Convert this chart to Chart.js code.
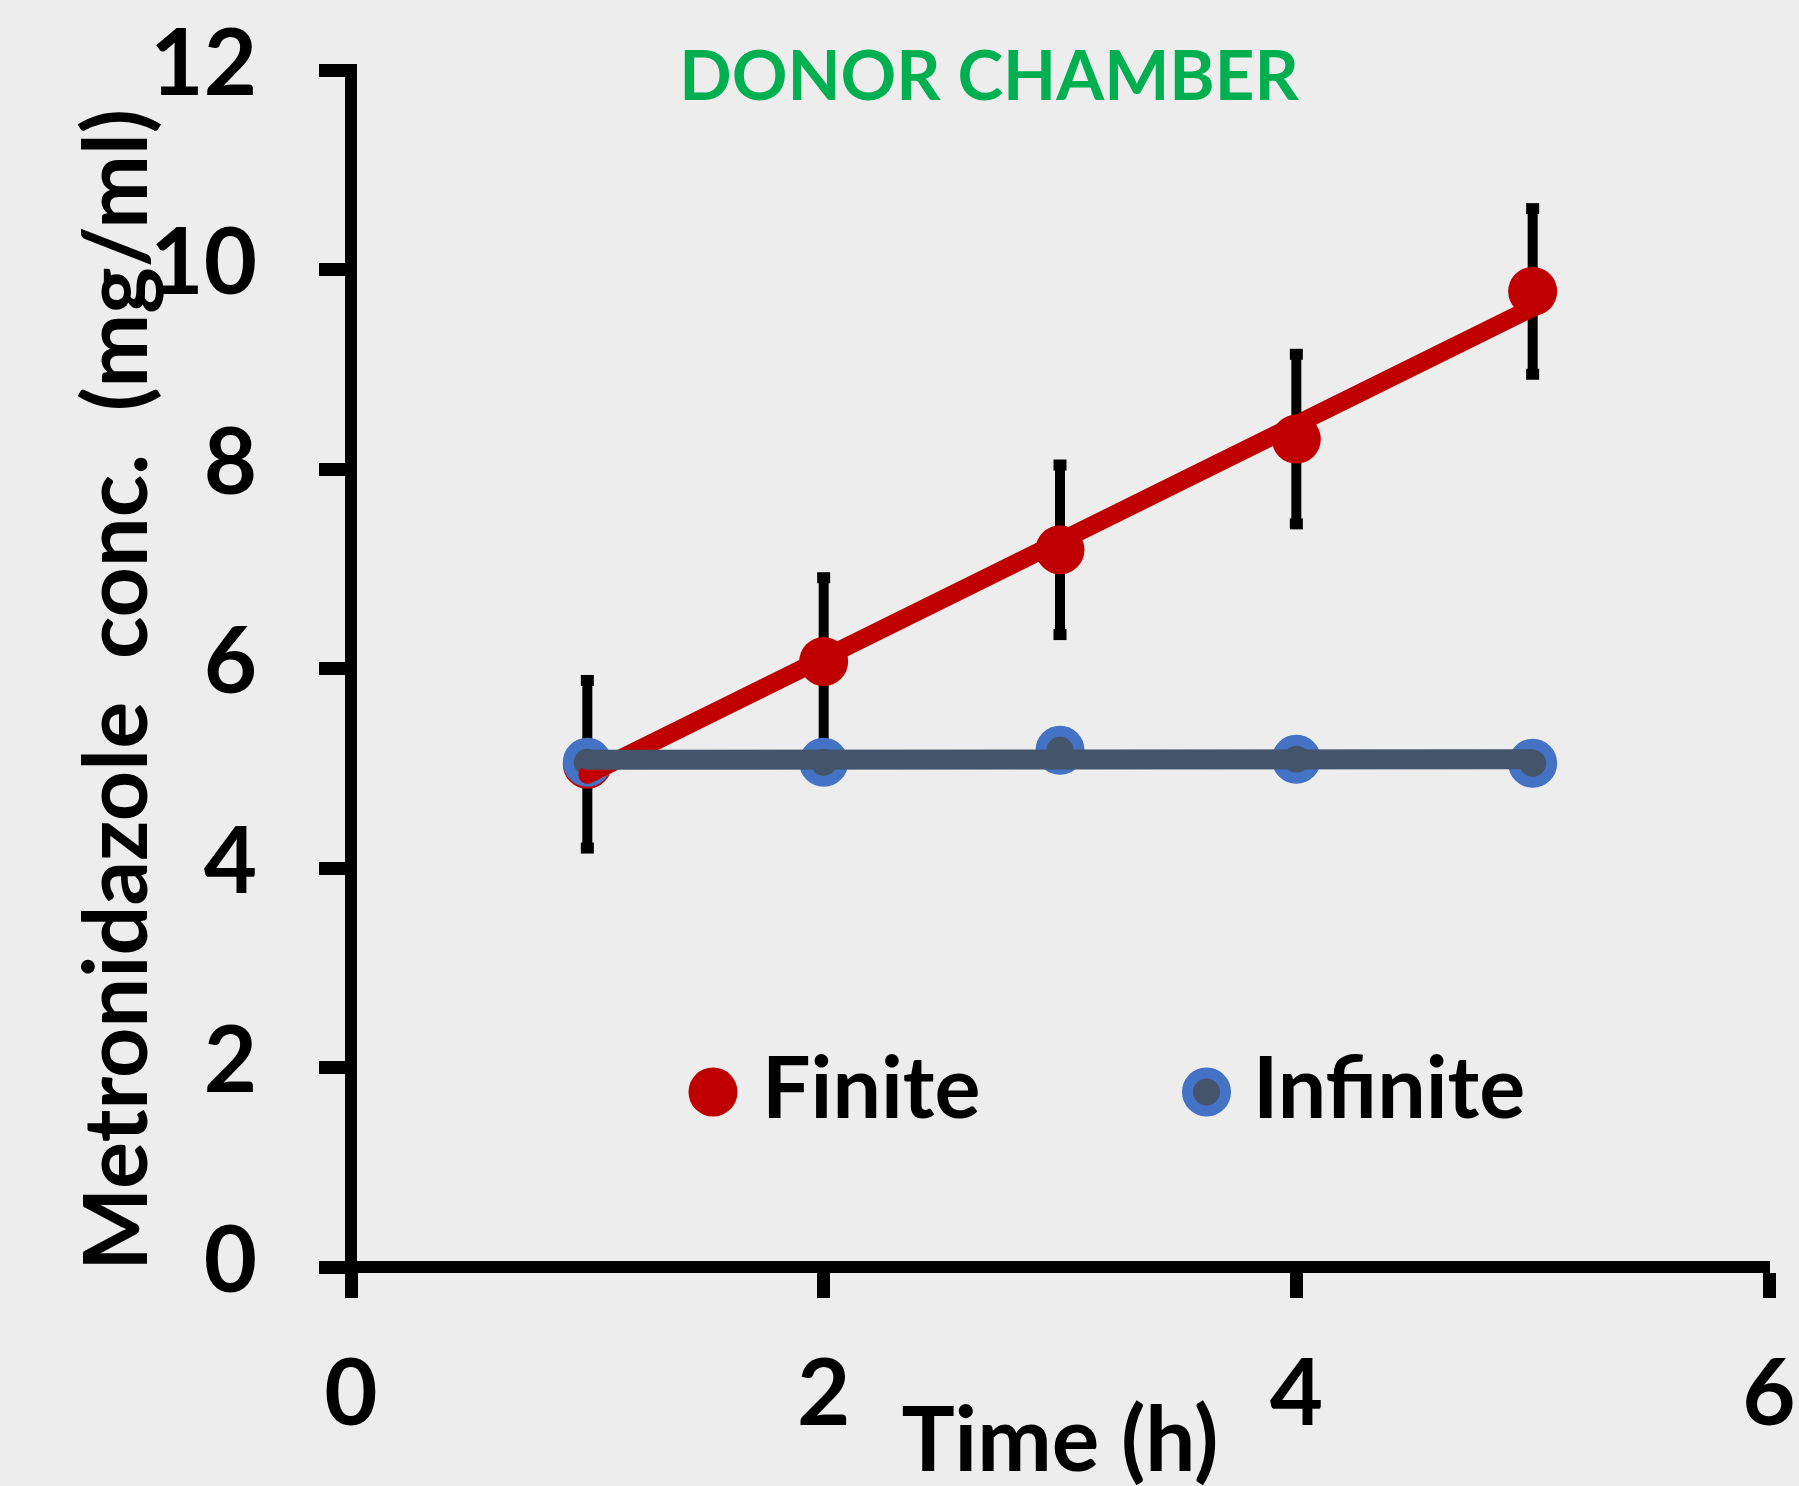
<!DOCTYPE html>
<html>
<head>
<meta charset="utf-8">
<script src="https://cdn.jsdelivr.net/npm/chart.js@4.4.1/dist/chart.umd.min.js"></script>
<style>
  html, body { margin: 0; padding: 0; background: #EDEDED; }
  #wrap { width: 1799px; height: 1486px; position: relative; }
  canvas { display: block; }
</style>
</head>
<body>
<div id="wrap"><canvas id="c" width="1799" height="1486"></canvas></div>
<script>
// ---- data ----
const timeH        = [1, 2, 3, 4, 5];
const finiteConc   = [5.04, 6.07, 7.19, 8.30, 9.78];
const finiteErr    = [0.84, 0.84, 0.85, 0.85, 0.83];
const infiniteConc = [5.06, 5.06, 5.18, 5.09, 5.05];
const xTickValues  = [0, 2, 4, 6];
const yTickValues  = [0, 2, 4, 6, 8, 10, 12];
const seriesNames  = ['Finite', 'Infinite'];
const chartTitle   = 'DONOR CHAMBER';
const xAxisTitle   = 'Time (h)';
const yAxisTitle   = 'Metronidazole  conc.  (mg/ml)  ';

// ---- styles ----
const RED = '#C00000', BLUE = '#4472C4', SLATE = '#44546A', GREEN = '#00B050';
const FONT = 'Lato';

function pts(xs, ys) { return xs.map((x, i) => ({ x: x, y: ys[i] })); }
// least-squares linear trendline through the series, from first to last x
function trend(xs, ys) {
  const n = xs.length;
  const mx = xs.reduce((a, b) => a + b, 0) / n;
  const my = ys.reduce((a, b) => a + b, 0) / n;
  let sxy = 0, sxx = 0;
  for (let i = 0; i < n; i++) { sxy += (xs[i] - mx) * (ys[i] - my); sxx += (xs[i] - mx) ** 2; }
  const b = sxy / sxx, a = my - b * mx;
  const x0 = xs[0], x1 = xs[n - 1];
  return [{ x: x0, y: a + b * x0 }, { x: x1, y: a + b * x1 }];
}

const errorBars = {
  id: 'errorBars',
  beforeDatasetsDraw(chart) {
    const { ctx, scales: { x, y } } = chart;
    ctx.save();
    ctx.fillStyle = '#000';
    timeH.forEach((t, i) => {
      const px = x.getPixelForValue(t);
      const top = y.getPixelForValue(finiteConc[i] + finiteErr[i]);
      const bot = y.getPixelForValue(finiteConc[i] - finiteErr[i]);
      ctx.fillRect(px - 5, top, 10, bot - top);
      ctx.fillRect(px - 6.5, top - 5.5, 13, 11);
      ctx.fillRect(px - 6.5, bot - 5.5, 13, 11);
    });
    ctx.restore();
  }
};

const legendAndTitle = {
  id: 'legendAndTitle',
  afterDraw(chart) {
    const ctx = chart.ctx;
    ctx.save();
    // title
    ctx.fillStyle = GREEN;
    ctx.font = 'bold 69px ' + FONT;
    ctx.textAlign = 'center';
    ctx.textBaseline = 'alphabetic';
    ctx.fillText(chartTitle, 989, 100);
    // legend
    const dsF = chart.data.datasets[0], dsI = chart.data.datasets[1];
    ctx.beginPath();
    ctx.arc(713, 1092, dsF.pointRadius, 0, Math.PI * 2);
    ctx.fillStyle = dsF.backgroundColor; ctx.fill();
    ctx.beginPath();
    ctx.arc(1206.5, 1092, dsI.pointRadius, 0, Math.PI * 2);
    ctx.fillStyle = dsI.backgroundColor; ctx.fill();
    ctx.lineWidth = dsI.borderWidth; ctx.strokeStyle = dsI.borderColor; ctx.stroke();
    ctx.fillStyle = '#000';
    ctx.font = 'bold 86px ' + FONT;
    ctx.textAlign = 'left';
    ctx.fillText(seriesNames[0], 762, 1118);
    ctx.fillText(seriesNames[1], 1253, 1118);
    ctx.restore();
  }
};

Chart.defaults.font.family = FONT;
Chart.defaults.color = '#000';

new Chart(document.getElementById('c'), {
  type: 'scatter',
  data: {
    datasets: [
      { label: seriesNames[0], data: pts(timeH, finiteConc), showLine: false,
        pointRadius: 24.5, backgroundColor: RED, borderWidth: 0, order: 4 },
      { label: seriesNames[1], data: pts(timeH, infiniteConc), showLine: false,
        pointRadius: 19, backgroundColor: SLATE, borderColor: BLUE, borderWidth: 11, order: 3 },
      { label: seriesNames[0] + ' trend', data: trend(timeH, finiteConc), showLine: true,
        pointRadius: 0, borderColor: RED, borderWidth: 18, borderCapStyle: 'round', order: 2 },
      { label: seriesNames[1] + ' trend', data: trend(timeH, infiniteConc), showLine: true,
        pointRadius: 0, borderColor: SLATE, borderWidth: 20, borderCapStyle: 'round', order: 1 }
    ]
  },
  options: {
    responsive: false,
    animation: false,
    events: [],
    devicePixelRatio: 1,
    layout: { padding: { top: 70, right: 24.5, bottom: 0, left: 0 } },
    plugins: { legend: { display: false }, tooltip: { enabled: false } },
    scales: {
      x: {
        type: 'linear', min: 0, max: 6,
        afterBuildTicks(s) { s.ticks = xTickValues.map(v => ({ value: v })); },
        afterFit(s) { s.height = 219; s.paddingLeft = 0; s.paddingRight = 0; },
        border: { display: true, color: '#000', width: 12 },
        grid: { drawOnChartArea: false, drawTicks: true, tickLength: 31, tickWidth: 13, tickColor: '#000' },
        ticks: { font: { size: 92, weight: 'bold' }, color: '#000', padding: 42, maxRotation: 0 },
        title: { display: true, text: xAxisTitle, font: { size: 89, weight: 'bold', lineHeight: 0.98 }, color: '#000', padding: { top: 0, bottom: 0 } }
      },
      y: {
        type: 'linear', min: 0, max: 12,
        afterBuildTicks(s) { s.ticks = yTickValues.map(v => ({ value: v })); },
        afterFit(s) { s.width = 351; s.paddingTop = 0; s.paddingBottom = 0; },
        border: { display: true, color: '#000', width: 12 },
        grid: { drawOnChartArea: false, drawTicks: true, tickLength: 32, tickWidth: 13, tickColor: '#000' },
        ticks: { font: { size: 92, weight: 'bold' }, color: '#000', padding: 62, labelOffset: -5 },
        title: { display: true, text: yAxisTitle, font: { size: 88, weight: 'bold' }, color: '#000', padding: { top: 66, bottom: 0 } }
      }
    }
  },
  plugins: [errorBars, legendAndTitle]
});
</script>
</body>
</html>
